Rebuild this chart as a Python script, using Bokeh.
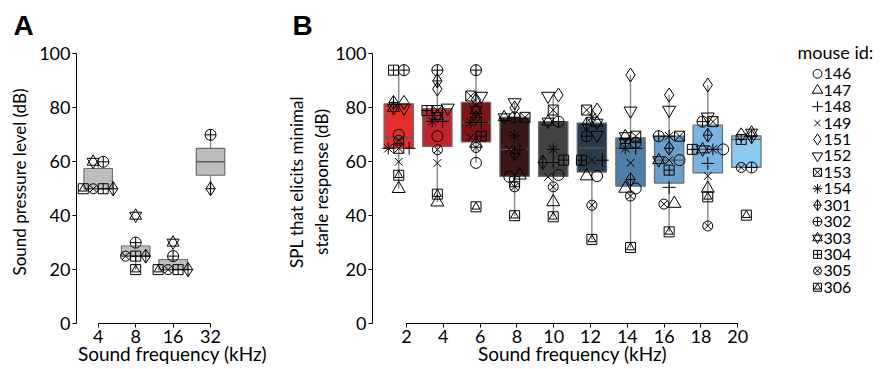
import numpy as np
from bokeh.plotting import figure
from bokeh.layouts import row
from bokeh.models import Range1d, LinearAxis, FixedTicker
from bokeh.embed import file_html
from bokeh.resources import INLINE
from bokeh.core.properties import value

nan = float("nan")

# ---------------- data ----------------
mouse_ids = ["146", "147", "148", "149", "151", "152", "153", "154",
             "301", "302", "303", "304", "305", "306"]

# Panel A: sound pressure level (dB) per frequency, one value per mouse (nan = not tested)
freq_a = [4, 8, 16, 32]
a_4khz = [nan, nan, nan, nan, nan, nan, nan, nan, 50, 60, 60, 50, 50, 50]
a_8khz = [nan, nan, nan, nan, nan, nan, nan, nan, 25, 30, 40, 25, 25, 20]
a_16khz = [nan, nan, nan, nan, nan, nan, nan, nan, 20, 25, 30, 20, 20, 20]
a_32khz = [nan, nan, nan, nan, nan, nan, nan, nan, 50, 70, nan, nan, nan, nan]

# Panel B: SPL that elicits minimal startle response (dB)
freq_b = [2, 4, 6, 8, 10, 12, 14, 16, 18, 20]
b_2khz = [70, 50, 65, 60, 82, 80, 65, 65, 82, 94, 80, 94, 68, 55]
b_4khz = [69.5, 45, 75, 59.5, 87, 80, 79, 75, 90, 94, 77, 79, 64.5, 48]
b_6khz = [59.6, 66.8, 74.6, 69, 83, 84.4, 84.4, 74.6, 76.5, 94, 79.2, 69.5, 65.3, 43.3]
b_8khz = [54.4, 55, 64.6, 64.6, 80, 82, 76.5, 69.6, 63, 76.5, 76.5, 52.6, 50.7, 40]
b_10khz = [55.1, 45.1, 59.8, 54.4, 84.8, 84.4, 79.2, 64.6, 59.8, 74.9, 74.9, 60.6, 50.7, 39.6]
b_12khz = [54.7, 54.7, 60.6, 60.6, 79.2, 69.9, 79.2, 76.5, 74, 69.5, 74.5, 60.6, 43.9, 31.2]
b_14khz = [50.1, 50.1, 65, 59.6, 92.2, 78.9, 69.5, 65, 53.4, 67.1, 69.5, 66.8, 47.3, 28.2]
b_16khz = [60.6, 44.5, 50.5, 60.6, 84.8, 79.2, 69.5, 69.5, 65, 69.5, 60.6, 56.9, 44.3, 34]
b_18khz = [64.6, 50.1, 59.4, 54.7, 88.5, 76.7, 74.9, 64.6, 69.9, 74.9, 64.6, 64.6, 36.2, 47]
b_20khz = [nan, nan, nan, nan, 70, nan, nan, nan, 69.3, 57.9, 70.8, 68.3, 57.9, 40.2]

y_ticks = [0, 20, 40, 60, 80, 100]

# ---------------- styles ----------------
FONT = "Lato"
box_colors_b = ["#e52f2d", "#c0262c", "#7d1619", "#3b1818", "#434343",
                "#2a3b4c", "#4f7da3", "#6a9fca", "#79b5e0", "#8ccbef"]
box_color_a = "#bdbdbd"
edge_color = "#6a6a6a"
whisker_color = "#888888"
median_color = "#5a5a5a"
marker_spec = {
    "146": [("circle", 11)],
    "147": [("triangle", 13)],
    "148": [("cross", 13)],
    "149": [("x", 11)],
    "151": [("diamond", 14)],
    "152": [("inverted_triangle", 13)],
    "153": [("square_x", 10)],
    "154": [("asterisk", 12)],
    "301": [("diamond_cross", 14)],
    "302": [("circle_cross", 11)],
    "303": [("triangle", 12), ("inverted_triangle", 12)],
    "304": [("square_cross", 10)],
    "305": [("circle_x", 10)],
    "306": [("square", 10), ("triangle", 8)],
}


def spread_offsets(vals, tol=1.2, step=0.27, maxw=0.8):
    """Spread near-equal values symmetrically around the category centre."""
    vals = np.asarray(vals, float)
    idx = [i for i in range(len(vals)) if not np.isnan(vals[i])]
    idx.sort(key=lambda i: (vals[i], -i))
    offs = np.full(len(vals), np.nan)
    clusters = []
    for i in idx:
        if clusters and vals[i] - vals[clusters[-1][0]] <= tol:
            clusters[-1].append(i)
        else:
            clusters.append([i])
    for c in clusters:
        n = len(c)
        s = min(step, maxw / (n - 1)) if n > 1 else 0.0
        for k, i in enumerate(c):
            offs[i] = (k - (n - 1) / 2) * s
    return offs


def box_stats(v):
    v = np.asarray(v, float)
    v = v[~np.isnan(v)]
    q1, med, q3 = np.percentile(v, [25, 50, 75])
    iqr = q3 - q1
    lo = v[v >= q1 - 1.5 * iqr].min()
    hi = v[v <= q3 + 1.5 * iqr].max()
    return q1, med, q3, lo, hi


def style_axis(ax, label_size="18px"):
    ax.axis_line_color = "black"
    ax.axis_line_width = 1
    ax.major_tick_line_color = "black"
    ax.major_tick_out = 4
    ax.major_tick_in = 0
    ax.minor_tick_line_color = None
    ax.major_label_text_font = FONT
    ax.major_label_text_font_size = "18px"
    ax.major_label_text_color = "black"
    ax.major_label_standoff = 2
    ax.axis_label_text_font = FONT
    ax.axis_label_text_font_size = label_size
    ax.axis_label_text_font_style = "normal"
    ax.axis_label_text_color = "black"


def draw_boxes(p, positions, groups, colors, width):
    st = [box_stats(g) for g in groups]
    q1 = [s[0] for s in st]
    med = [s[1] for s in st]
    q3 = [s[2] for s in st]
    lo = [s[3] for s in st]
    hi = [s[4] for s in st]
    p.segment(x0=positions, y0=q3, x1=positions, y1=hi, line_color=whisker_color, line_width=1.4)
    p.segment(x0=positions, y0=q1, x1=positions, y1=lo, line_color=whisker_color, line_width=1.4)
    p.vbar(x=positions, width=width, bottom=q1, top=q3, fill_color=colors,
           line_color=edge_color, line_width=1.2)
    half = width / 2
    p.segment(x0=[x - half for x in positions], y0=med, x1=[x + half for x in positions], y1=med,
              line_color=median_color, line_width=1.4)


def draw_points(p, positions, groups, step):
    offs = [spread_offsets(g, step=step) for g in groups]
    for m, mid in enumerate(mouse_ids):
        xs, ys = [], []
        for gi, g in enumerate(groups):
            v = g[m]
            if not np.isnan(v):
                xs.append(positions[gi] + offs[gi][m])
                ys.append(v)
        if not xs:
            continue
        for marker, size in marker_spec[mid]:
            p.scatter(x=xs, y=ys, marker=marker, size=size, line_color="black",
                      line_width=1, fill_alpha=0)


def base_fig(width, xr, left, right, title):
    p = figure(width=width, height=369, x_range=xr, y_range=Range1d(0, 105),
               output_backend="svg", toolbar_location=None,
               min_border_left=left, min_border_right=right,
               min_border_top=40, min_border_bottom=46, title=title)
    p.outline_line_color = None
    p.xgrid.grid_line_color = None
    p.ygrid.grid_line_color = None
    p.background_fill_color = "white"
    p.border_fill_color = "white"
    p.title.text_font = "Liberation Sans"
    p.title.text_font_size = "28px"
    p.title.text_font_style = "bold"
    p.title.text_color = "black"
    p.title.align = "left"
    p.title.standoff = 0
    return p


# ---------------- panel A ----------------
pos_a = [float(np.log2(f)) for f in freq_a]
xr_a = Range1d(1.42, 6.548)
pA = base_fig(282, xr_a, 76, 14, "A")
pA.title.offset = -63
groups_a = [a_4khz, a_8khz, a_16khz, a_32khz]
draw_boxes(pA, pos_a, groups_a, [box_color_a] * len(freq_a), 0.76)
draw_points(pA, pos_a, groups_a, 0.27)
xa = pA.xaxis[0]
xa.ticker = FixedTicker(ticks=pos_a)
xa.major_label_overrides = {p_: str(f) for p_, f in zip(pos_a, freq_a)}
xa.bounds = (pos_a[0], pos_a[-1])
xa.axis_label = "Sound frequency (kHz)"
style_axis(xa, "19px")
xa.axis_label_standoff = -4
ya = pA.yaxis[0]
ya.ticker = FixedTicker(ticks=y_ticks)
ya.bounds = (0, 100)
ya.axis_label = "Sound pressure level (dB)"
style_axis(ya, "17px")
ya.axis_label_standoff = 6

# ---------------- panel B ----------------
pos_b = list(range(len(freq_b)))
xr_b = Range1d(-0.679, 9.676)
pB = base_fig(508, xr_b, 75, 18, "B")
pB.title.offset = -80
pB.xaxis.visible = False
pB.extra_x_ranges = {"freq": Range1d(0.151, 21.886)}
groups_b = [b_2khz, b_4khz, b_6khz, b_8khz, b_10khz, b_12khz, b_14khz, b_16khz, b_18khz, b_20khz]
draw_boxes(pB, pos_b, groups_b, box_colors_b, 0.76)
draw_points(pB, pos_b, groups_b, 0.27)
xb = LinearAxis(x_range_name="freq", ticker=FixedTicker(ticks=freq_b), bounds=(freq_b[0], freq_b[-1]),
                axis_label="Sound frequency (kHz)")
style_axis(xb, "19px")
xb.axis_label_standoff = -4
pB.add_layout(xb, "below")
yb = pB.yaxis[0]
yb.ticker = FixedTicker(ticks=y_ticks)
yb.bounds = (0, 100)
yb.axis_label = "SPL that elicits minimal\nstarle response (dB)"
style_axis(yb, "17px")
yb.axis_label_standoff = 0

# ---------------- legend ----------------
pL = figure(width=92, height=369, x_range=Range1d(0, 92), y_range=Range1d(15.207, -2.028),
            output_backend="svg", toolbar_location=None,
            min_border_left=0, min_border_right=0, min_border_top=40, min_border_bottom=46,
            x_axis_location=None, y_axis_location=None)
pL.outline_line_color = None
pL.xgrid.grid_line_color = None
pL.ygrid.grid_line_color = None
rows_y = list(range(len(mouse_ids)))
for i, mid in enumerate(mouse_ids):
    for marker, size in marker_spec[mid]:
        pL.scatter(x=[27], y=[rows_y[i]], marker=marker, size=size * 0.8, line_color="black",
                   line_width=1, fill_alpha=0)
pL.text(x=[33] * len(mouse_ids), y=rows_y, text=mouse_ids, text_font=value(FONT),
        text_font_size="16px", text_baseline="middle", text_align="left", text_color="black")
pL.text(x=[7], y=[-1.35], text=["mouse id:"], text_font=value(FONT), text_font_size="18px",
        text_baseline="middle", text_align="left", text_color="black")

layout = row(pA, pB, pL)
open("out.html", "w").write(file_html(layout, INLINE))
